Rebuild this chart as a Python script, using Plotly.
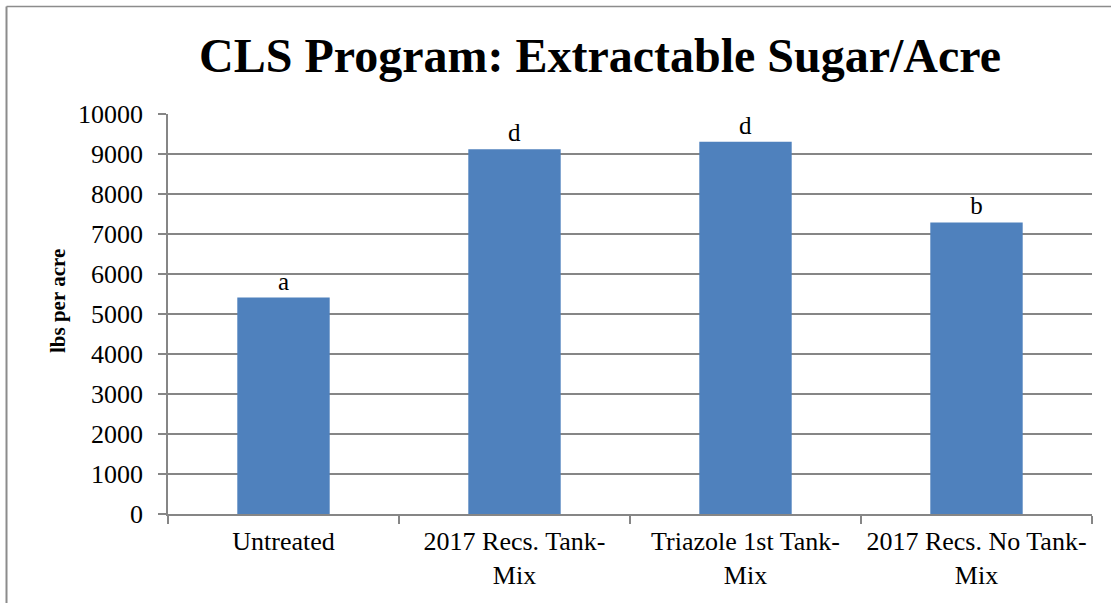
import plotly.graph_objects as go

# Treatment programmes and extractable sugar yield (lbs per acre)
categories = ["Untreated", "2017 Recs. Tank-<br>Mix", "Triazole 1st Tank-<br>Mix", "2017 Recs. No Tank-<br>Mix"]
sugar_lbs_per_acre = [5410, 9120, 9305, 7290]
significance_letters = ["a", "d", "d", "b"]
y_tick_values = list(range(0, 10001, 1000))
y_tick_labels = [str(v) for v in y_tick_values]

W, H = 1111, 603
L, R, T, B = 168, 19, 114, 89
plot_w = W - L - R
plot_h = H - T - B

def px_x(px):
    return (px - L) / plot_w

def px_y(py):
    return (H - B - py) / plot_h

serif = "Liberation Serif"
grey = "#868686"

fig = go.Figure(
    go.Bar(
        x=categories,
        y=sugar_lbs_per_acre,
        text=significance_letters,
        textposition="outside",
        textfont=dict(family=serif, size=25, color="#000000"),
        cliponaxis=False,
        marker=dict(color="#4F81BD", line=dict(width=0)),
        width=0.4,
    )
)

fig.update_layout(
    width=W,
    height=H,
    margin=dict(l=L, r=R, t=T, b=B),
    paper_bgcolor="white",
    plot_bgcolor="white",
    showlegend=False,
    font=dict(family=serif, size=26, color="#000000"),
    xaxis=dict(
        type="category",
        tickson="boundaries",
        ticks="outside",
        ticklen=8,
        tickcolor=grey,
        tickwidth=1.5,
        showline=True,
        linecolor=grey,
        linewidth=1.5,
        showgrid=False,
        tickfont=dict(family=serif, size=26, color="#000000"),
        ticklabelstandoff=3,
    ),
    yaxis=dict(
        range=[0, 10000],
        tickvals=y_tick_values,
        ticktext=y_tick_labels,
        ticks="outside",
        ticklen=8,
        tickcolor=grey,
        tickwidth=1.5,
        showline=True,
        linecolor=grey,
        linewidth=1.5,
        showgrid=True,
        gridcolor=grey,
        gridwidth=1.5,
        zeroline=False,
        tickfont=dict(family=serif, size=26, color="#000000"),
        ticklabelstandoff=10,
    ),
    annotations=[
        dict(
            text="<b>CLS Program: Extractable Sugar/Acre</b>",
            xref="paper", yref="paper",
            x=px_x(600), y=px_y(55),
            xanchor="center", yanchor="middle",
            showarrow=False,
            font=dict(family=serif, size=48, color="#000000"),
        ),
        dict(
            text="<b>lbs per acre</b>",
            xref="paper", yref="paper",
            x=px_x(58), y=px_y(301),
            xanchor="center", yanchor="middle",
            textangle=-90,
            showarrow=False,
            font=dict(family=serif, size=21, color="#000000"),
        ),
    ],
    shapes=[
        # outer chart frame (top and left edges)
        dict(type="line", xref="paper", yref="paper",
             x0=px_x(6.5), x1=px_x(W + 5), y0=px_y(6.5), y1=px_y(6.5),
             line=dict(color="#8c8c8c", width=1.5)),
        dict(type="line", xref="paper", yref="paper",
             x0=px_x(6.5), x1=px_x(6.5), y0=px_y(6.5), y1=px_y(H + 5),
             line=dict(color="#8c8c8c", width=2)),
    ],
)

fig.write_html("out.html")
